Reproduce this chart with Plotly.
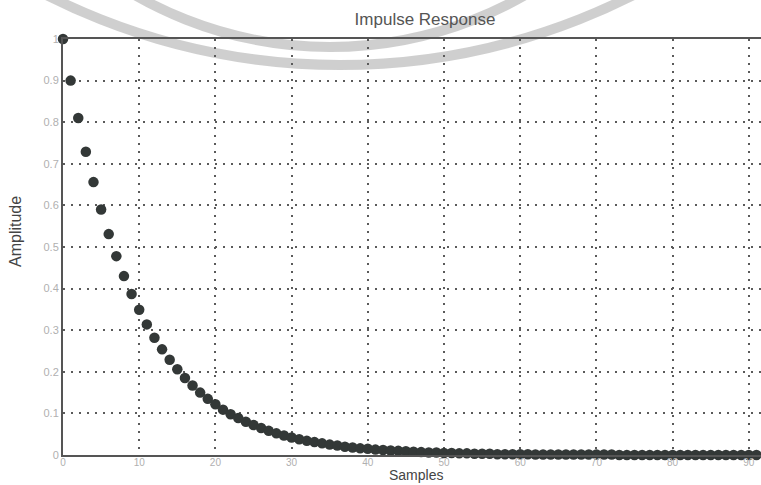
import plotly.graph_objects as go

# Sample index and amplitude
samples = list(range(0, 92))
amplitude = [
    1.000, 0.900, 0.810, 0.729, 0.656, 0.590, 0.531, 0.478, 0.430, 0.387,
    0.349, 0.314, 0.282, 0.254, 0.229, 0.206, 0.185, 0.167, 0.150, 0.135,
    0.122, 0.109, 0.098, 0.089, 0.080, 0.072, 0.065, 0.058, 0.052, 0.047,
    0.042, 0.038, 0.034, 0.031, 0.028, 0.025, 0.023, 0.020, 0.018, 0.016,
    0.015, 0.013, 0.012, 0.011, 0.010, 0.009, 0.008, 0.007, 0.006, 0.006,
    0.005, 0.005, 0.004, 0.004, 0.003, 0.003, 0.003, 0.002, 0.002, 0.002,
    0.002, 0.002, 0.001, 0.001, 0.001, 0.001, 0.001, 0.001, 0.001, 0.001,
    0.001, 0.001, 0.001, 0.000, 0.000, 0.000, 0.000, 0.000, 0.000, 0.000,
    0.000, 0.000, 0.000, 0.000, 0.000, 0.000, 0.000, 0.000, 0.000, 0.000,
    0.000, 0.000,
]
x_ticks = [0, 10, 20, 30, 40, 50, 60, 70, 80, 90]
y_ticks = [0, 0.1, 0.2, 0.3, 0.4, 0.5, 0.6, 0.7, 0.8, 0.9, 1]
y_tick_text = ["0", "0.1", "0.2", "0.3", "0.4", "0.5", "0.6", "0.7", "0.8", "0.9", "1"]

W, H = 761, 485
L, R, T, B = 63, 0, 39, 30
pw, ph = W - L - R, H - T - B


def px(x):
    return (x - L) / pw


def py(y):
    return (H - B - y) / ph


fig = go.Figure()
fig.add_trace(go.Scatter(
    x=samples, y=amplitude, mode="markers",
    marker=dict(size=10.5, color="#333837", line=dict(width=0)),
    cliponaxis=False, showlegend=False,
))

# faint stamp watermark arcs (center x, center y, radius in pixels)
wm = "rgba(175,175,175,0.6)"
for cx, cy, r in [(330, -345, 392), (340, -585, 650)]:
    fig.add_shape(type="circle", xref="paper", yref="paper",
                  x0=px(cx - r), x1=px(cx + r), y0=py(cy + r), y1=py(cy - r),
                  line=dict(color=wm, width=10), layer="below")

grid_col = "#5a5a5a"
fig.update_xaxes(
    range=[0, 91.6], tickvals=x_ticks, ticks="", showgrid=True,
    gridcolor=grid_col, gridwidth=1.6, griddash="2px,6px",
    showline=True, linecolor="#555", linewidth=2, mirror=True,
    zeroline=False, ticklabelstandoff=-3,
    tickfont=dict(family="Liberation Sans, Arial", size=10, color="#b0b0b0"),
)
fig.update_yaxes(
    range=[0, 1], tickvals=y_ticks, ticktext=y_tick_text, ticks="", showgrid=True,
    gridcolor=grid_col, gridwidth=1.6, griddash="2px,6px",
    showline=True, linecolor="#555", linewidth=2, mirror=False,
    zeroline=False, tickfont=dict(family="Liberation Sans, Arial", size=11, color="#b0b0b0"),
)

fig.update_layout(
    width=W, height=H,
    margin=dict(l=L, r=R, t=T, b=B, autoexpand=False),
    paper_bgcolor="white", plot_bgcolor="white",
    title=dict(text="Impulse Response", x=425 / W, xanchor="center",
               y=1 - 19 / H, yanchor="middle",
               font=dict(family="Liberation Sans, Arial", size=17, color="#555")),
    annotations=[
        dict(text="Samples", xref="paper", yref="paper", x=px(416), y=py(484),
             showarrow=False, xanchor="center", yanchor="bottom", borderpad=0,
             font=dict(family="Liberation Sans, Arial", size=14, color="#444")),
        dict(text="Amplitude", xref="paper", yref="paper", x=px(15), y=py(232),
             showarrow=False, xanchor="center", yanchor="middle", textangle=-90,
             font=dict(family="Liberation Sans, Arial", size=16, color="#444")),
    ],
)

fig.write_html("out.html")
